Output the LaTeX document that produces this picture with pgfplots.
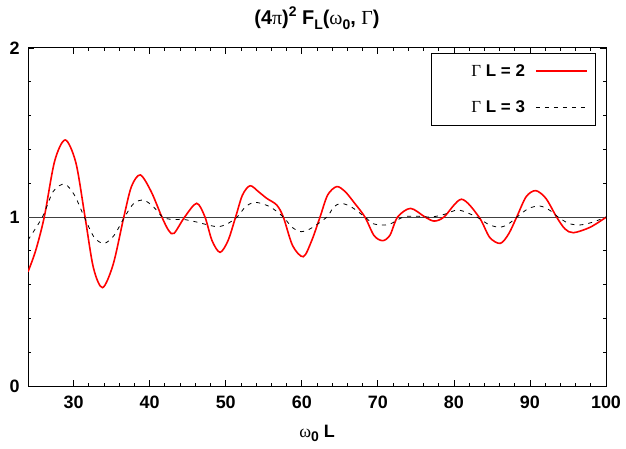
\documentclass[border=0pt]{standalone}
\usepackage{fontspec}
\setmainfont{Liberation Sans}
\newfontfamily\grk{Liberation Serif}
\usepackage{pgfplots}
\usepackage{pgfplotstable}
\pgfplotsset{compat=1.18}
\newcommand{\sub}[1]{\raisebox{-0.45ex}{\fontsize{14}{14}\selectfont #1}}
\newcommand{\super}[1]{\raisebox{0.8ex}{\fontsize{14}{14}\selectfont #1}}
\newcommand{\gk}[1]{{\grk\mdseries #1}}

\pgfplotstableread{
x y
24 0.676
25 0.80
26.14 1.0
27.5 1.33
28.9 1.456
30.3 1.32
31.5 1.0
32.6 0.70
33.8 0.582
35.2 0.72
36.6 1.0
37.6 1.18
38.77 1.249
40.2 1.15
41.6 1.0
42.5 0.92
43.2 0.903
44.6 1.0
46.18 1.081
47.27 1.0
48.2 0.86
49.25 0.791
50.3 0.86
51.3 1.0
52.2 1.13
53.2 1.185
54.3 1.15
55.4 1.11
56.7 1.071
57.57 1.0
58.8 0.83
60.2 0.765
61.3 0.86
62.4 1.0
63.4 1.13
64.6 1.18
65.7 1.15
66.8 1.09
68.3 1.0
69.5 0.89
70.64 0.86
71.6 0.893
72.6 1.0
74.3 1.051
76.2 1.0
77.4 0.976
78.7 1.0
81.0 1.105
83.3 1.0
84.7 0.88
86.1 0.844
87.2 0.90
88.26 1.0
89.5 1.12
90.76 1.156
92.1 1.11
93.5 1.0
94.6 0.93
95.7 0.907
97.9 0.939
100 0.998
}\redtab

\pgfplotstableread{
x y
24 0.864
25.9 1.0
27.3 1.15
28.8 1.195
30.1 1.13
31.4 1.0
32.7 0.88
34.0 0.844
35.3 0.89
36.7 1.0
37.9 1.08
39.2 1.1
40.5 1.06
41.7 1.0
43 0.985
44.4 0.986
46 0.972
48.8 0.943
50.2 0.96
51.5 1.0
52.6 1.06
53.85 1.087
55.8 1.061
57.57 1.0
58.7 0.94
59.9 0.913
61.1 0.93
63.3 1.0
64.2 1.06
65.2 1.08
66.5 1.06
68.3 1.0
69.4 0.96
70.5 0.953
71.6 0.958
73.35 1.0
75 1.005
77 1.0
78.7 1.015
80.6 1.041
83.0 1.0
84.6 0.955
86.1 0.939
87.2 0.96
88.3 1.0
89.8 1.05
91.3 1.065
92.6 1.04
93.7 1.0
95.1 0.962
96.6 0.953
98.3 0.97
100 1.0
}\blacktab

\begin{document}
\begin{tikzpicture}
\begin{axis}[name=ax, scale only axis, width=578bp, height=338bp,
  xmin=24, xmax=100, ymin=0, ymax=2,
  xtick={30,40,...,100}, ytick={0,1,2},
  minor x tick num=4, minor y tick num=4,
  tick align=inside, major tick length=6bp, minor tick length=3bp,
  axis line style={line width=1bp},
  every tick/.style={black, line width=0.8bp},
  tick label style={font=\fontsize{18}{18}\selectfont\bfseries},
  /pgf/number format/assume math mode=true,
  xticklabel style={yshift=-6bp}, yticklabel style={xshift=-5bp},
  title={(4\gk{π})\super{2} F\sub{L}(\gk{ω}\sub{0}, \gk{Γ})},
  title style={font=\fontsize{20}{20}\selectfont\bfseries, yshift=9bp},
  xlabel={\gk{ω}\sub{0} L},
  xlabel style={font=\fontsize{18}{18}\selectfont\bfseries, yshift=-10bp},
  legend style={at={(1,1)}, anchor=north east, xshift=-10bp, yshift=-5bp,
    draw=black, line width=0.8bp, font=\fontsize{17}{17}\selectfont\bfseries,
    inner xsep=8bp, inner ysep=9bp, row sep=19bp},
  legend cell align=right, legend plot pos=right,
  legend image code/.code={\path (0bp,0bp); \draw[#1] (8bp,0bp) -- (59bp,0bp);},
]
\addplot[black!75, line width=1bp, forget plot] coordinates {(24,1) (100,1)};
\addplot[red, line width=1.6bp, smooth] table[x=x,y=y] {\redtab};
\addlegendentry{\hspace*{30bp}\gk{Γ} L = 2}
\addplot[black, line width=0.8bp, dash pattern=on 4bp off 5bp, smooth] table[x=x,y=y] {\blacktab};
\addlegendentry{\hspace*{30bp}\gk{Γ} L = 3}
\end{axis}
\pgfresetboundingbox
\path ([shift={(-28bp,-62bp)}]ax.south west) rectangle ([shift={(20bp,48bp)}]ax.north east);
\end{tikzpicture}
\end{document}
